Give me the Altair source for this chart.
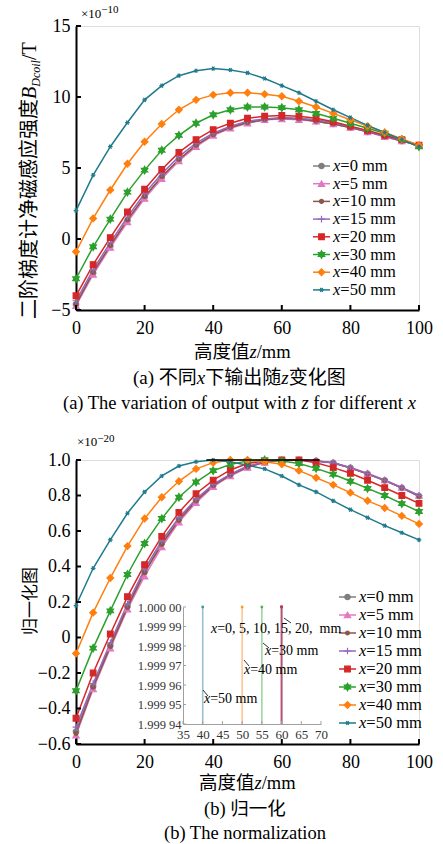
import altair as alt
import pandas as pd

# ---------------- data ----------------
z = [0, 5, 10, 15, 20, 25, 30, 35, 40, 45, 50, 55, 60, 65, 70, 75, 80, 85, 90, 95, 100]
series = ["0", "5", "10", "15", "20", "30", "40", "50"]
legend_rest = ["=0 mm", "=5 mm", "=10 mm", "=15 mm", "=20 mm", "=30 mm", "=40 mm", "=50 mm"]

# (a) B_Dcoil, units of 1e-10 T
top_x0 = [-4.6, -2.4, -0.5, 1.3, 2.95, 4.35, 5.6, 6.6, 7.35, 7.85, 8.2, 8.4, 8.5, 8.45, 8.3, 8.1, 7.85, 7.55, 7.2, 6.9, 6.6]
top_x5 = [-4.7, -2.5, -0.6, 1.2, 2.85, 4.25, 5.5, 6.5, 7.3, 7.8, 8.15, 8.4, 8.45, 8.4, 8.3, 8.1, 7.85, 7.55, 7.2, 6.9, 6.6]
top_x10 = [-4.6, -2.35, -0.45, 1.35, 3.0, 4.4, 5.6, 6.6, 7.35, 7.85, 8.2, 8.4, 8.5, 8.45, 8.3, 8.1, 7.85, 7.55, 7.25, 6.9, 6.6]
top_x15 = [-4.35, -2.15, -0.25, 1.55, 3.2, 4.6, 5.8, 6.75, 7.45, 7.95, 8.3, 8.45, 8.55, 8.5, 8.4, 8.2, 7.9, 7.6, 7.25, 6.95, 6.6]
top_x20 = [-4.0, -1.8, 0.1, 1.9, 3.5, 4.9, 6.1, 7.0, 7.7, 8.15, 8.5, 8.65, 8.7, 8.65, 8.5, 8.25, 7.95, 7.65, 7.3, 7.0, 6.6]
top_x30 = [-2.8, -0.55, 1.4, 3.3, 4.85, 6.25, 7.3, 8.15, 8.75, 9.1, 9.3, 9.3, 9.25, 9.1, 8.85, 8.5, 8.15, 7.8, 7.45, 7.0, 6.5]
top_x40 = [-0.9, 1.45, 3.45, 5.3, 6.85, 8.1, 9.1, 9.8, 10.15, 10.3, 10.3, 10.2, 10.05, 9.7, 9.3, 8.85, 8.4, 7.95, 7.5, 7.05, 6.6]
top_x50 = [2.0, 4.5, 6.5, 8.2, 9.8, 10.8, 11.5, 11.85, 12.0, 11.9, 11.7, 11.3, 10.8, 10.3, 9.7, 9.1, 8.55, 8.0, 7.5, 7.0, 6.5]

# (b) normalized
norm_x0 = [-0.53, -0.275, -0.045, 0.175, 0.37, 0.53, 0.665, 0.772, 0.857, 0.916, 0.961, 0.989, 1.0, 1.0, 0.995, 0.984, 0.956, 0.922, 0.885, 0.843, 0.797]
norm_x5 = [-0.55, -0.29, -0.06, 0.16, 0.345, 0.51, 0.65, 0.76, 0.85, 0.91, 0.958, 0.986, 1.0, 1.0, 0.996, 0.985, 0.958, 0.925, 0.888, 0.846, 0.80]
norm_x10 = [-0.54, -0.28, -0.05, 0.17, 0.365, 0.525, 0.66, 0.77, 0.855, 0.915, 0.96, 0.988, 1.0, 1.0, 0.995, 0.983, 0.955, 0.921, 0.884, 0.842, 0.795]
norm_x15 = [-0.505, -0.26, -0.03, 0.19, 0.385, 0.545, 0.675, 0.78, 0.863, 0.92, 0.966, 0.99, 1.0, 1.0, 0.995, 0.985, 0.957, 0.923, 0.886, 0.844, 0.80]
norm_x20 = [-0.455, -0.20, 0.02, 0.23, 0.41, 0.57, 0.705, 0.81, 0.887, 0.944, 0.98, 0.995, 1.0, 1.0, 0.985, 0.957, 0.925, 0.886, 0.844, 0.80, 0.756]
norm_x30 = [-0.30, -0.06, 0.15, 0.355, 0.53, 0.67, 0.79, 0.876, 0.94, 0.975, 0.995, 1.0, 0.995, 0.98, 0.953, 0.92, 0.88, 0.84, 0.80, 0.754, 0.71]
norm_x40 = [-0.09, 0.14, 0.335, 0.515, 0.67, 0.79, 0.88, 0.95, 0.985, 1.0, 1.0, 0.99, 0.976, 0.94, 0.90, 0.86, 0.816, 0.77, 0.73, 0.685, 0.64]
norm_x50 = [0.18, 0.39, 0.55, 0.70, 0.82, 0.91, 0.966, 0.99, 1.0, 0.99, 0.97, 0.95, 0.91, 0.86, 0.82, 0.77, 0.72, 0.675, 0.63, 0.59, 0.55]

flat_segment_z = [38, 71]          # short black segment at 1.0 in (b)
inset_peak_z = [60, 60, 60, 60, 60, 55, 50, 40]
inset_y_range = [1.99994, 2.00000]
inset_x_ticks = [35, 40, 45, 50, 55, 60, 65, 70]
inset_y_ticks = [1.99994, 1.99995, 1.99996, 1.99997, 1.99998, 1.99999, 2.00000]
inset_y_labels = ["1.999 94", "1.999 95", "1.999 96", "1.999 97", "1.999 98", "1.999 99", "1.000 00"]

x_ticks = [0, 20, 40, 60, 80, 100]
top_y_ticks = [-5, 0, 5, 10, 15]
bot_y_ticks = [-0.6, -0.4, -0.2, 0, 0.2, 0.4, 0.6, 0.8, 1.0]

# ---------------- styles ----------------
FONT = "Liberation Serif, Noto Sans CJK SC"
NUMFONT = "Liberation Serif"
colors = ["#7f7f7f", "#e377c2", "#8c564b", "#9467bd", "#d62728", "#2ca02c", "#ff7f0e", "#1f7a8c"]
shapes = ["circle", "triangle-up", "circle", "M-1,0L1,0M0,-1L0,1", "square",
          "M0,-1L0.866,0.5L-0.866,0.5ZM0,1L-0.866,-0.5L0.866,-0.5Z", "diamond",
          "M-1,0L1,0M-0.5,-0.866L0.5,0.866M-0.5,0.866L0.5,-0.866"]
sizes = [30, 40, 16, 45, 32, 55, 45, 22]
W, H = 343, 284

cscale = alt.Scale(domain=series, range=colors)
shscale = alt.Scale(domain=series, range=shapes)
szscale = alt.Scale(type="ordinal", domain=series, range=sizes)

REG = {' ': 250, '(': 333, ')': 333, '/': 278, '=': 564, ',': 250, '.': 250, '×': 564, '−': 564,
       'a': 444, 'b': 500, 'c': 444, 'd': 500, 'e': 444, 'f': 333, 'g': 500, 'h': 500, 'i': 278,
       'j': 278, 'k': 500, 'l': 278, 'm': 778, 'n': 500, 'o': 500, 'p': 500, 'q': 500, 'r': 333,
       's': 389, 't': 278, 'u': 500, 'v': 500, 'w': 722, 'x': 500, 'y': 500, 'z': 444, 'T': 611, 'B': 667}
ITA = {'x': 444, 'z': 389, 'B': 611, 'D': 722, 'c': 444, 'o': 500, 'i': 278, 'l': 278}
ONE = pd.DataFrame({"a": [0]})


def tw(s, fs, italic):
    w = 0
    for ch in s:
        if ord(ch) > 0x2E80:
            w += 1000
        elif italic and ch in ITA:
            w += ITA[ch]
        else:
            w += REG.get(ch, 500)
    return w * fs / 1000.0


def text_run(pieces, x0, y0, fs, angle=None, baseline="alphabetic"):
    out = []
    pos = 0.0
    for p in pieces:
        txt, ital = p[0], p[1]
        f = p[2] if len(p) > 2 else fs
        dyo = p[3] if len(p) > 3 else 0
        body = txt.lstrip(" ")
        lead = tw(txt[:len(txt) - len(body)], f, ital)
        start = pos + lead
        if angle:
            x, y = x0 + dyo, y0 - start
        else:
            x, y = x0 + start, y0 + dyo
        mk = dict(text=body.rstrip(" "), font=FONT, fontSize=f, align="left",
                  baseline=baseline, color="black")
        if ital:
            mk["fontStyle"] = "italic"
        if angle:
            mk["angle"] = angle
        out.append(alt.Chart(ONE).mark_text(**mk).encode(x=alt.value(x), y=alt.value(y)))
        pos += tw(txt, f, ital)
    return out


def long_df(vals):
    rows = []
    for s, arr in zip(series, vals):
        for zz, v in zip(z, arr):
            rows.append({"z": zz, "v": v, "s": s})
    return pd.DataFrame(rows)


def main_layers(vals, ydomain, yticks, ylab_expr, leg_x, leg_y0, leg_dy):
    df = long_df(vals)
    xs = alt.Scale(domain=[0, 100], nice=False)
    ys = alt.Scale(domain=ydomain, nice=False, zero=False)
    common = dict(title=None, ticks=False, tickSize=0, grid=False, domainColor="black",
                  domainWidth=2, labelFontSize=18, labelFont=NUMFONT, labelFontWeight="normal",
                  labelColor="black", labelFlush=False, labelOverlap=False)
    xaxis = alt.Axis(orient="bottom", values=x_ticks, labelPadding=9, **common)
    yopts = dict(orient="left", values=yticks, labelPadding=6, **common)
    if ylab_expr:
        yopts["labelExpr"] = ylab_expr
    yaxis = alt.Axis(**yopts)
    X = lambda f: alt.X(f, scale=xs, axis=xaxis)
    Y = lambda f: alt.Y(f, scale=ys, axis=yaxis)
    enc = dict(color=alt.Color("s:N", scale=cscale, legend=None))
    lines = alt.Chart(df).mark_line(strokeWidth=1.5).encode(x=X("z:Q"), y=Y("v:Q"), **enc)
    pts_enc = dict(
        color=alt.Color("s:N", scale=cscale, legend=None),
        stroke=alt.Stroke("s:N", scale=cscale, legend=None),
        shape=alt.Shape("s:N", scale=shscale, legend=None),
        size=alt.Size("s:N", scale=szscale, legend=None))
    pts = alt.Chart(df).mark_point(filled=True, strokeWidth=1.2, opacity=1).encode(
        x=X("z:Q"), y=Y("v:Q"), **pts_enc)
    xt = alt.Chart(pd.DataFrame({"t": x_ticks})).mark_rule(color="black", strokeWidth=2).encode(
        x=X("t:Q"), y=alt.value(H), y2=alt.value(H - 5))
    yt = alt.Chart(pd.DataFrame({"t": yticks})).mark_rule(color="black", strokeWidth=2).encode(
        y=Y("t:Q"), x=alt.value(0), x2=alt.value(5))
    # custom legend
    ldf = pd.DataFrame({"s": series, "rest": legend_rest,
                        "ly": [leg_y0 + i * leg_dy for i in range(len(series))]})
    ly = alt.Y("ly:Q", scale=None, axis=None)
    lrule = alt.Chart(ldf).mark_rule(strokeWidth=1.5).encode(
        x=alt.value(leg_x), x2=alt.value(leg_x + 17), y=ly, **enc)
    lpt = alt.Chart(ldf).mark_point(filled=True, strokeWidth=1.2, opacity=1).encode(
        x=alt.value(leg_x + 8.5), y=ly, **pts_enc)
    lx = alt.Chart(ldf).mark_text(text="x", font=FONT, fontSize=16.5, fontStyle="italic",
                                  align="left", baseline="middle", color="black").encode(
        x=alt.value(leg_x + 20), y=ly)
    lrest = alt.Chart(ldf).mark_text(font=FONT, fontSize=16.5, align="left",
                                     baseline="middle", color="black").encode(
        x=alt.value(leg_x + 20 + tw("x", 16.5, True)), y=ly, text="rest:N")
    return [lines, pts, xt, yt, lrule, lpt, lx, lrest], X, Y


# ---------------- panel (a) ----------------
la, X_a, Y_a = main_layers([top_x0, top_x5, top_x10, top_x15, top_x20, top_x30, top_x40, top_x50],
                           [-5, 15], top_y_ticks, None, 237, 140, 17.7)
bounds_rule = alt.Chart(ONE).mark_rule(opacity=0, strokeWidth=0.5).encode(
    x=alt.value(-75), y=alt.value(-25), y2=alt.value(0))
texts_a = []
texts_a += text_run([("×10", False, 13), ("−10", False, 11, -5)], 5, -8, 13)
texts_a += text_run([("二阶梯度计净磁感应强度", False), ("B", True), ("Dcoil", True, 12, 4), ("/T", False)],
                    -40, 293, 20, angle=270)
texts_a += text_run([("高度值", False), ("z", True), ("/mm", False)], 118, 332, 18.5)
texts_a += text_run([("(a) 不同", False), ("x", True), ("下输出随", False), ("z", True), ("变化图", False)],
                    57, 358, 19)
texts_a += text_run([("(a) The variation of output with ", False), ("z", True),
                     (" for different ", False), ("x", True)], -13, 383, 18.5)
top = alt.layer(*la, bounds_rule, *texts_a).properties(width=W, height=H)

# ---------------- panel (b) ----------------
lb, X_b, Y_b = main_layers([norm_x0, norm_x5, norm_x10, norm_x15, norm_x20, norm_x30, norm_x40, norm_x50],
                           [-0.6, 1.0], bot_y_ticks,
                           "datum.value == 0 ? '0' : format(datum.value, '.1f')", 263, 137, 18)
flat = alt.Chart(pd.DataFrame({"z1": [flat_segment_z[0]], "z2": [flat_segment_z[1]], "v": [1.0]})).mark_rule(
    color="black", strokeWidth=1.5).encode(x=X_b("z1:Q"), x2="z2:Q", y=Y_b("v:Q"))
texts_b = []
texts_b += text_run([("×10", False, 13), ("−20", False, 11, -4)], 1, -14, 13)
texts_b += text_run([("归一化图", False)], -40, 175, 17, angle=270)
texts_b += text_run([("高度值", False), ("z", True), ("/mm", False)], 123, 329, 18.5)
texts_b += text_run([("(b) 归一化", False)], 128, 355, 18.5)
texts_b += text_run([("(b) The normalization", False)], 88, 379, 18.5)
n_main_txt = len(texts_b)
# inset annotations
texts_b += text_run([("x", True), ("=0, 5, 10, 15, 20,  ", False), ("mm", False)], 135, 173, 14)
texts_b += text_run([("x", True), ("=30 mm", False)], 189, 195, 14)
texts_b += text_run([("x", True), ("=40 mm", False)], 168, 214, 14)
texts_b += text_run([("x", True), ("=50 mm", False)], 128, 243, 14)
leaders = []
for (x1, y1, x2, y2) in [(208, 158, 215, 163), (187, 183, 193, 188), (168, 200, 173, 206), (127, 230, 132, 236)]:
    leaders.append(alt.Chart(ONE).mark_rule(color="black", strokeWidth=0.8).encode(
        x=alt.value(x1), y=alt.value(y1), x2=alt.value(x2), y2=alt.value(y2)))

bottom_main = alt.layer(*lb[:2], flat, *lb[2:], *texts_b[:n_main_txt], *leaders, *texts_b[n_main_txt:])

# inset
ixs = alt.Scale(domain=[35, 70], range=[107, 245], nice=False, zero=False)
iys = alt.Scale(domain=inset_y_range, range=[264, 147], nice=False, zero=False)
iax_common = dict(title=None, ticks=False, tickSize=0, grid=False, domainColor="#a0a0a0",
                  domainWidth=1, labelFont=NUMFONT, labelFontWeight="normal",
                  labelColor="#333333", labelFlush=False, labelOverlap=False)
ixaxis = alt.Axis(orient="bottom", offset=-20, values=inset_x_ticks, labelPadding=4,
                  labelFontSize=13, **iax_common)
iyaxis = alt.Axis(orient="left", offset=-107, values=inset_y_ticks, labelPadding=2, labelFontSize=12.5,
                  labelExpr="[" + ",".join("'%s'" % s for s in inset_y_labels) + "][round((datum.value - 1.99994) * 100000)]",
                  **iax_common)
IX = lambda f: alt.X(f, scale=ixs, axis=ixaxis)
IY = lambda f: alt.Y(f, scale=iys, axis=iyaxis)
idf = pd.DataFrame({"s": series, "zp": inset_peak_z,
                    "lo": [inset_y_range[0]] * len(series), "hi": [inset_y_range[1]] * len(series)})
irules = alt.Chart(idf).mark_rule(strokeWidth=1.6, opacity=0.45).encode(
    x=IX("zp:Q"), y=IY("lo:Q"), y2="hi:Q",
    color=alt.Color("s:N", scale=cscale, legend=None))
idots = alt.Chart(idf).mark_circle(size=8, opacity=0.8).encode(
    x=IX("zp:Q"), y=IY("hi:Q"), color=alt.Color("s:N", scale=cscale, legend=None))
ixt = alt.Chart(pd.DataFrame({"t": inset_x_ticks})).mark_rule(color="#a0a0a0", strokeWidth=1).encode(
    x=IX("t:Q"), y=alt.value(264), y2=alt.value(261))
iyt = alt.Chart(pd.DataFrame({"t": inset_y_ticks})).mark_rule(color="#a0a0a0", strokeWidth=1).encode(
    y=IY("t:Q"), x=alt.value(107), x2=alt.value(110))
inset = alt.layer(irules, idots, ixt, iyt)

bottom = alt.layer(inset, bottom_main).resolve_scale(x="independent", y="independent").properties(
    width=W, height=H)

chart = alt.vconcat(top, bottom, spacing=150, bounds="flush").properties(
    padding=0, background="white").configure_view(stroke=None).configure(font=FONT).configure_axis(
    labelFont=NUMFONT)

chart.save("out.html", embed_options={"renderer": "svg", "actions": False})
